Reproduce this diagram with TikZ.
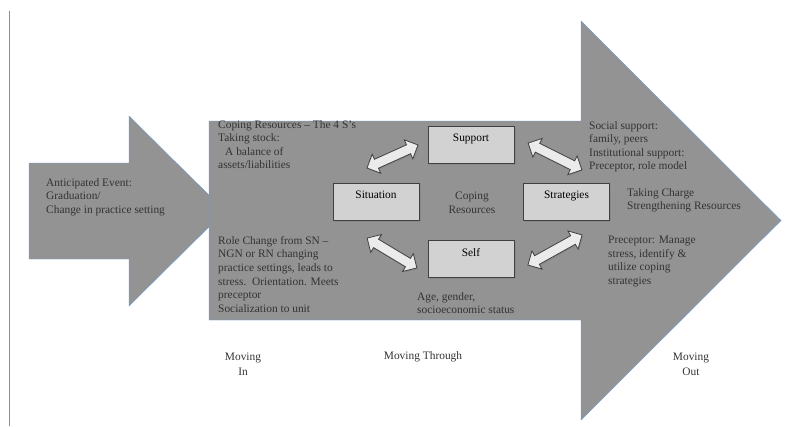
\documentclass[tikz,border=0pt]{standalone}
\usepackage{fontspec}
\setmainfont{Liberation Serif}
\usetikzlibrary{shapes.arrows,shadows}

\definecolor{arrowgray}{HTML}{939393}
\definecolor{edgeblue}{HTML}{6E9BD3}
\definecolor{boxgray}{HTML}{D2D2D2}
\definecolor{inkgray}{HTML}{333333}

\tikzset{copenode/.style={rectangle, draw=black!75, thick, fill=boxgray, minimum width=86pt, minimum height=37pt, text depth=13pt, drop shadow={opacity=0.45, shadow xshift=1.5pt, shadow yshift=-1.5pt}}}
\tikzset{dblarrow/.style={double arrow, draw=black!75, thick, fill=black!8, inner sep=0pt, inner ysep=4.5pt, minimum width=20pt, double arrow head extend=5.5pt, double arrow head indent=0pt, sloped, drop shadow={opacity=0.45, shadow xshift=1.2pt, shadow yshift=-1.2pt}}}
\tikzset{notenode/.style={align=left, anchor=north west, inner sep=0pt, text=inkgray, font=\fontsize{11.4}{13.6}\selectfont}}
\tikzset{phasenode/.style={align=center, inner sep=0pt, text=inkgray, font=\fontsize{11.4}{15}\selectfont}}

\begin{document}
\begin{tikzpicture}[x=1pt, y=-1pt]
		\useasboundingbox (0,0) rectangle (785,426);

		%page margin
		\draw[black!45, thin] (9,11) -- (9,426);

		%big arrows
		\draw[edgeblue, fill=arrowgray] (29,163) -- (129,163) -- (129,116) -- (225,211) -- (129,306) -- (129,259) -- (29,259) -- cycle;
		\draw[edgeblue, fill=arrowgray] (209,121) -- (581,121) -- (581,21) -- (781,220.5) -- (581,420) -- (581,320) -- (209,320) -- cycle;

		%the 4 S's
		\node[copenode, font=\fontsize{11.4}{13}\selectfont] (support) at (471,144.5) {Support};
		\node[copenode, font=\fontsize{11.4}{13}\selectfont] (situation) at (376,201.5) {Situation};
		\node[copenode, font=\fontsize{11.4}{13}\selectfont] (strategies) at (566.5,201.5) {Strategies};
		\node[copenode, font=\fontsize{11.4}{13}\selectfont] (self) at (471,259) {Self};
		\node[phasenode, font=\fontsize{11.4}{13.6}\selectfont] (coping) at (472,203) {Coping\\Resources};

		%double arrows
		\coordinate (a1s) at (367,168);  \coordinate (a1e) at (418,145);
		\coordinate (a2s) at (528,143);  \coordinate (a2e) at (582,170);
		\coordinate (a3s) at (367,238);  \coordinate (a3e) at (417,268);
		\coordinate (a4s) at (528,265);  \coordinate (a4e) at (582,235);
		\path (a1s) -- node[dblarrow, minimum height=56pt] (sitsup) {} (a1e);
		\path (a2s) -- node[dblarrow, minimum height=60pt] (supstr) {} (a2e);
		\path (a3s) -- node[dblarrow, minimum height=58pt] (sitself) {} (a3e);
		\path (a4s) -- node[dblarrow, minimum height=62pt] (selfstr) {} (a4e);

		%notes
		\node[notenode] (event) at (46,178) {Anticipated Event:\\Graduation/\\Change in practice setting};
		\node[notenode] (stock) at (218,120) {Coping Resources -- The 4 S's\\Taking stock:\\\hspace*{7pt}A balance of\\assets/liabilities};
		\node[notenode] (role) at (218,236) {Role Change from SN --\\NGN or RN changing\\practice settings, leads to\\stress.\ \ Orientation. Meets\\preceptor\\Socialization to unit};
		\node[notenode] (age) at (417,292) {Age, gender,\\socioeconomic status};
		\node[notenode] (social) at (589,121) {Social support:\\family, peers\\Institutional support:\\Preceptor, role model};
		\node[notenode] (charge) at (627,188) {Taking Charge\\Strengthening Resources};
		\node[notenode] (precept) at (608,236) {Preceptor: Manage\\stress, identify \&\\utilize coping\\strategies};

		%phases
		\node[phasenode] (movin) at (243,364.5) {Moving\\In};
		\node[phasenode] (movthrough) at (423,357) {Moving Through};
		\node[phasenode] (movout) at (691,364.5) {Moving\\Out};
	\end{tikzpicture}
\end{document}
